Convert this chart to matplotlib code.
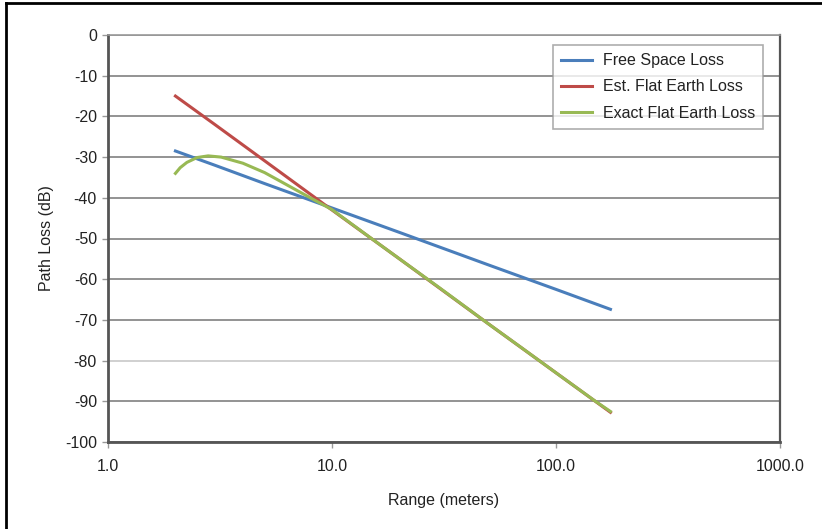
import matplotlib
matplotlib.use("Agg")
import matplotlib.pyplot as plt
from matplotlib.lines import Line2D

plt.rcParams['font.family'] = ['Liberation Sans', 'DejaVu Sans']
plt.rcParams['axes.unicode_minus'] = False

# values
free_x = [2, 3, 5, 10, 20, 50, 100, 175]
free_y = [-28.5, -32.0, -36.5, -42.5, -48.5, -56.5, -62.5, -67.4]

est_x = [2, 3, 5, 10, 20, 50, 100, 175]
est_y = [-15.0, -22.0, -30.9, -43.0, -55.0, -71.0, -83.0, -92.7]

exact_x = [2, 2.1, 2.25, 2.5, 2.8, 3.2, 4, 5, 6, 8, 10, 15, 20, 30, 50, 70, 100, 150, 175]
exact_y = [-34.0, -32.6, -31.3, -30.1, -29.7, -30.0, -31.5, -33.8, -36.2, -40.0,
           -42.9, -50.0, -55.0, -62.0, -71.0, -76.8, -83.0, -90.0, -92.5]

x_ticks = [1, 10, 100, 1000]
x_tick_labels = ["1.0", "10.0", "100.0", "1000.0"]
y_ticks = list(range(-100, 1, 10))

fs = 11.5

fig = plt.figure(figsize=(8.22, 5.29), dpi=100)
ax = fig.add_axes([108 / 822, 87 / 529, 672 / 822, 407 / 529])

ax.plot(free_x, free_y, color='#4a7ebb', lw=2.2, label='Free Space Loss')
ax.plot(est_x, est_y, color='#be4b48', lw=2.2, label='Est. Flat Earth Loss')
ax.plot(exact_x, exact_y, color='#98b954', lw=2.2, label='Exact Flat Earth Loss')

ax.set_xscale('log')
ax.set_xlim(1, 1000)
ax.set_ylim(-100, 0)
ax.set_xticks(x_ticks)
ax.set_xticklabels(x_tick_labels)
ax.minorticks_off()
ax.set_yticks(y_ticks)
ax.tick_params(axis='both', labelsize=fs, colors='#222222', length=4, width=1)
ax.tick_params(axis='x', pad=8, color='#999999')
ax.tick_params(axis='y', color='#999999', pad=4)

ax.yaxis.grid(True, color='#808080', lw=1.2)
ax.get_ygridlines()[2].set_color('#c8c8c8')
ax.set_axisbelow(True)

for side in ['left', 'bottom']:
    ax.spines[side].set_color('#555555')
    ax.spines[side].set_linewidth(2.0)
ax.spines['right'].set_color('#555555')
ax.spines['right'].set_linewidth(1.6)
ax.spines['top'].set_color('#999999')
ax.spines['top'].set_linewidth(1.2)

ax.set_xlabel('Range (meters)', fontsize=fs, labelpad=14, color='#222222')
ax.set_ylabel('Path Loss (dB)', fontsize=fs, labelpad=8, color='#222222')

leg = ax.legend(loc='upper right', bbox_to_anchor=(0.975, 0.975), fontsize=fs,
                frameon=True, fancybox=False, handlelength=1.9, handletextpad=0.7,
                borderpad=0.5, labelspacing=0.7, borderaxespad=0)
leg.get_frame().set_edgecolor('#999999')
leg.get_frame().set_linewidth(1.2)
for t in leg.get_texts():
    t.set_color('#222222')

# figure border (top and left edges visible in the reference)
fig.add_artist(Line2D([6 / 822, 1], [1 - 3 / 529, 1 - 3 / 529], transform=fig.transFigure,
                      color='black', lw=2))
fig.add_artist(Line2D([6 / 822, 6 / 822], [0, 1 - 3 / 529], transform=fig.transFigure,
                      color='black', lw=2))

fig.savefig('out.png', dpi=100)
